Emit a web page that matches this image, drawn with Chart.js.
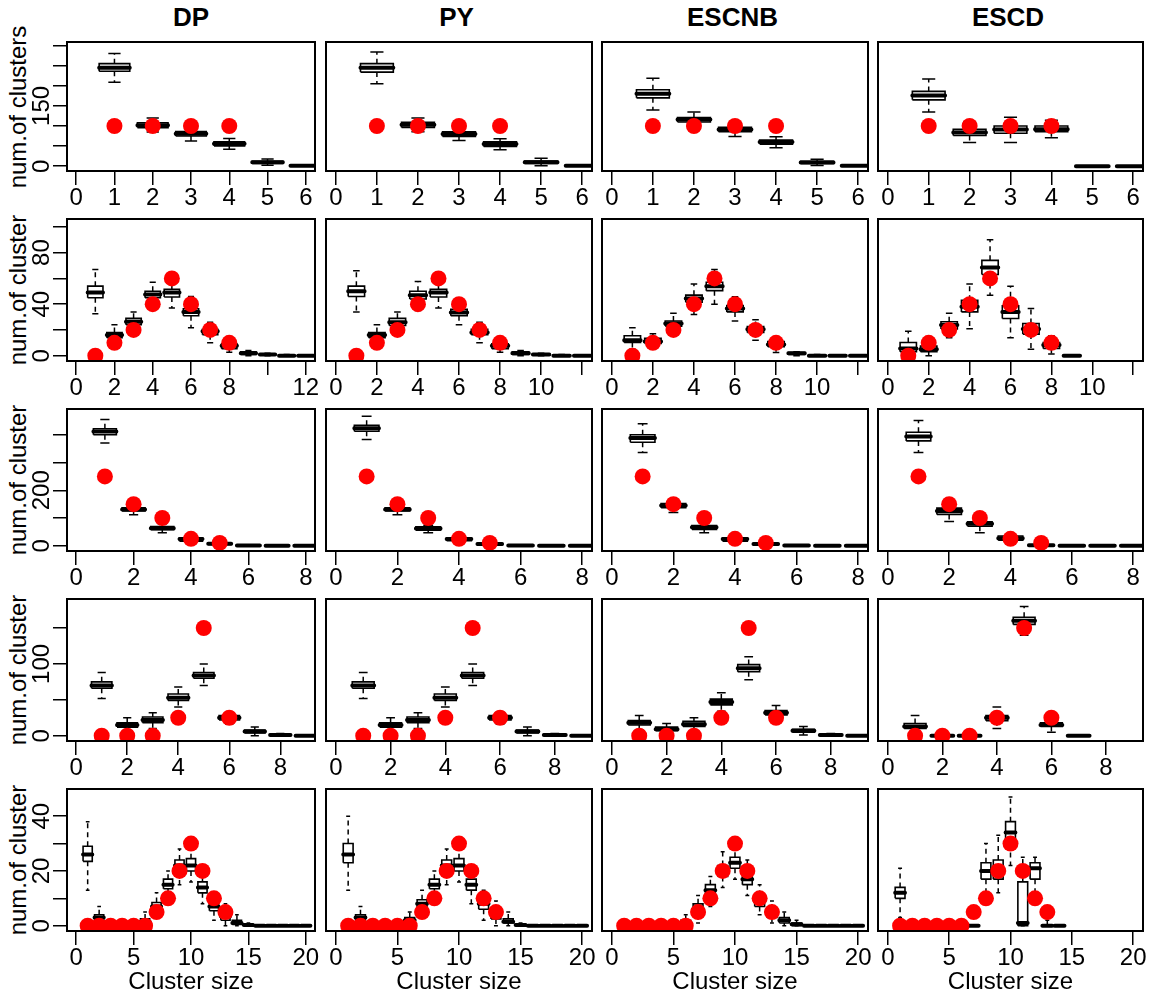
<!DOCTYPE html>
<html>
<head>
<meta charset="utf-8">
<script src="https://cdn.jsdelivr.net/npm/chart.js@4.4.0/dist/chart.umd.min.js"></script>
<style>
  body { margin: 0; background: #fff; width: 1151px; height: 1000px; position: relative; overflow: hidden;
         font-family: "Liberation Sans", Arial, Helvetica, sans-serif; color: #000; }
  canvas { position: absolute; }
  .head { position: absolute; top: 0; font-weight: bold; font-size: 26px; line-height: 34px; text-align: center; width: 200px; }
  .ytitle { position: absolute; font-size: 24px; line-height: 24px; white-space: nowrap; transform: translate(-50%, -50%) rotate(-90deg); }
</style>
</head>
<body>
<script>
// ---- data ----
const methods = ['DP', 'PY', 'ESCNB', 'ESCD'];
const yTitles = ['num.of clusters', 'num.of cluster', 'num.of cluster', 'num.of cluster', 'num.of cluster'];
const groupCounts = [6, 12, 8, 9, 20];
const yDataMax = [297, 102, 474, 183, 48];

const yTicks = [[0, 50, 100, 150, 200, 250, 300], [0, 20, 40, 60, 80, 100], [0, 100, 200, 300, 400], [0, 50, 100, 150], [0, 10, 20, 30, 40]];
const yTickLabels = [[0, 150], [0, 40, 80], [0, 200], [0, 100], [0, 20, 40]];
const xTicks = [[0, 1, 2, 3, 4, 5, 6], [0, 2, 4, 6, 8, 10, 12], [0, 2, 4, 6, 8], [0, 2, 4, 6, 8], [0, 5, 10, 15, 20]];
const xTickLabels = [[0, 1, 2, 3, 4, 5, 6], [0, 2, 4, 6, 8, 10], [0, 2, 4, 6, 8], [0, 2, 4, 6, 8], [0, 5, 10, 15, 20]];
const xTickLabelsRow2First = [0, 2, 4, 6, 8, 12];

// observed counts (red dots), at cluster size 1, 2, ...
const obsRow1 = [100, 100, 100, 100];
const obsRow2 = [0, 10, 20, 40, 60, 40, 20, 10];
const obsRow3 = [250, 150, 100, 25, 10];
const obsRow4 = [0, 0, 0, 25, 150, 25];
const obsRow5 = [0, 0, 0, 0, 0, 0, 5, 10, 20, 30, 20, 10, 5];

// boxplots: [lower whisker, q1, median, q3, upper whisker] per cluster size
const dpRow1 = [[209, 236, 245, 255, 280], [85, 96, 102, 108, 120], [63, 75, 80.5, 86, 97], [42, 50.7, 55.6, 60.6, 69], [2.5, 7, 10, 12, 18], [0, 0.5, 1, 1.5, 3]];
const pyRow1 = [[205, 234, 245, 255, 284], [85.6, 96.5, 103, 109, 120], [64, 74, 80, 85.6, 95], [40.7, 49, 55, 60.6, 68], [1, 7, 10, 13, 20], [0, 0.5, 1, 1.5, 3]];
const escnbRow1 = [[140, 170, 180, 190, 219], [95.6, 110, 116, 121, 135], [74, 85.6, 91.5, 96.5, 109], [45.7, 55, 60, 65, 73], [2, 7, 9, 12, 17.5], [0, 0.5, 1, 1.5, 2]];
const escdRow1 = [[135, 165, 176, 186, 217], [59, 76.5, 84, 91.5, 110], [59, 82, 91.5, 100, 122], [70.6, 85.6, 92, 100, 114], [0, 0, 0, 0, 0], [0, 0, 0, 0, 0]];

const dpRow2 = [[32.6, 45, 49, 54, 67], [11, 14, 16, 18, 24], [18, 24, 26.4, 29, 34], [39, 45, 47.6, 50, 57], [37, 45.6, 49, 51.6, 58], [21.7, 31, 34, 36.5, 46],
  [10, 16.3, 19, 20.6, 26], [2.8, 5.4, 7.8, 9.3, 12], [0, 1, 2, 3, 4], [0, 0.5, 1, 1.5, 2], [0, 0, 0, 0.5, 1], [0, 0, 0, 0, 0.5]];
const pyRow2 = [[34, 46, 50, 54, 66], [10, 14, 16, 18, 24], [18, 23.5, 26, 29, 34], [35, 44, 47, 50, 57.6], [37, 45.6, 49, 51.6, 58], [24, 31, 33.6, 36, 43],
  [10, 16.3, 18, 20.6, 26], [2.8, 5.4, 7.8, 9.3, 12], [0, 1, 2, 3, 4], [0, 0.5, 1, 1.5, 2], [0, 0, 0, 0.5, 1], [0, 0, 0, 0, 0.5]];
const escnbRow2 = [[5, 10.3, 12, 15.5, 21.7], [7, 9.6, 11, 13.5, 17], [17, 23, 25, 27, 33], [32, 41.5, 44.5, 47, 55.6], [40, 50.5, 54, 57, 67], [27, 34, 36.7, 39, 45.7],
  [12, 18, 20.5, 22.6, 28], [2.6, 7, 8.8, 11, 13], [0, 1, 2, 2.5, 3], [0, 0, 0, 0.5, 1], [0, 0, 0, 0, 0.5], [0, 0, 0, 0, 0]];
const escdRow2 = [[0, 3.1, 5.7, 10.3, 19], [0, 3.1, 5, 7.5, 10], [14, 20.7, 23.8, 26.4, 33], [21, 34, 38, 43, 55.6], [47, 63, 68.5, 74, 90], [14, 28.9, 34, 38.7, 54],
  [5, 16.8, 20.7, 25, 36.7], [1.3, 5.7, 8.3, 10.3, 15.5], [0, 0, 0, 0, 0]];

const dpRow3 = [[370, 400, 412, 421.6, 455], [112, 125, 131, 137, 145], [47, 57.6, 63.5, 69.5, 79], [10, 16.5, 24, 28.5, 35], [2, 5, 7, 9, 12], [0, 0.5, 1, 2, 3], [0, 0, 0, 0.5, 1], [0, 0, 0, 0, 0]];
const pyRow3 = [[383, 413, 424, 434.6, 467], [112, 125, 131, 137, 145], [47, 56, 62, 68, 74], [10, 18, 24, 28, 35], [2, 4, 6, 8, 12], [0, 0.5, 1, 2, 3], [0, 0, 0, 0.5, 1], [0, 0, 0, 0, 0]];
const escnbRow3 = [[336, 373, 388, 400, 439.6], [120, 137, 145, 152, 168], [47, 59, 67, 73, 83], [12, 16, 24, 28, 35], [2, 4, 6, 8, 12], [0, 0.5, 1, 2, 3], [0, 0, 0, 0, 0], [0, 0, 0, 0, 0]];
const escdRow3 = [[336, 378, 394, 409, 451.5], [87.6, 113, 125, 135.6, 163], [47, 70, 79, 86, 100], [12, 20, 27, 35, 43], [0, 0.5, 2, 3, 5], [0, 0, 0, 0, 0], [0, 0, 0, 0, 0], [0, 0, 0, 0, 0]];

const dpRow4 = [[52, 66, 70, 75, 88], [5, 12, 15, 18, 25], [10, 18, 22, 26, 32], [40, 49, 53, 58, 68], [70, 80, 84, 88, 100], [16, 22, 25, 28, 33], [0, 4, 6, 8, 12], [0, 0.5, 1, 2, 3], [0, 0, 0, 0, 0]];
const pyRow4 = [[52, 66, 70, 75, 88], [5, 12, 15, 18, 25], [10, 18, 22, 26, 32], [40, 49, 53, 58, 68], [70, 80, 84, 88, 100], [16, 22, 25, 28, 33], [0, 4, 6, 8, 12], [0, 0.5, 1, 2, 3], [0, 0, 0, 0, 0]];
const escnbRow4 = [[8, 15, 18, 21, 28], [2, 7, 9, 12, 17], [7, 13, 16, 20, 25], [34, 43, 47, 51, 60], [78, 89, 94, 99, 110], [22, 29, 32, 35, 42], [1, 5, 7, 9, 13], [0, 0.5, 1, 2, 3], [0, 0, 0, 0, 0]];
const escdRow4 = [[2, 10, 13, 17, 28], [0, 0, 0, 0.5, 2], [0, 0, 0, 0, 1], [10, 21, 25, 28, 40], [140, 155, 160, 165, 180], [5, 13, 15, 18, 25], [0, 0, 0, 0, 0]];

const dpRow5 = [[13, 23.5, 26, 29, 38], [0, 2, 3, 4, 7], [0, 0, 0, 0.5, 1], [0, 0, 0, 0, 0], [0, 0, 0, 0, 0.5], [0, 0.5, 1.5, 2.5, 5], [3, 5.5, 7, 8.5, 12],
  [10, 13.5, 15, 17, 20], [15, 20, 22, 24, 28], [16, 20, 22, 24.5, 30], [8, 12, 14, 16, 20], [2, 5.5, 7, 8.5, 12], [0, 2, 3.5, 5, 8], [0, 0.5, 1, 2, 4],
  [0, 0, 0.3, 0.5, 1], [0, 0, 0, 0, 0], [0, 0, 0, 0, 0], [0, 0, 0, 0, 0], [0, 0, 0, 0, 0], [0, 0, 0, 0, 0]];
const pyRow5 = [[13, 23, 26, 30, 40], [0, 2, 3, 4, 7], [0, 0, 0, 0.5, 1], [0, 0, 0, 0, 0], [0, 0, 0, 0, 0.5], [0, 1, 2, 3, 5], [3, 6, 8, 9.5, 13],
  [10, 13.5, 15, 17, 20], [15, 20, 22, 24, 28], [16, 20, 22, 24.5, 30], [8, 13, 15, 17, 21], [2, 6, 8, 9.5, 13], [0, 2.5, 4, 5.5, 9], [0, 1, 1.5, 2.5, 5],
  [0, 0, 0.3, 0.5, 1], [0, 0, 0, 0, 0], [0, 0, 0, 0, 0], [0, 0, 0, 0, 0], [0, 0, 0, 0, 0], [0, 0, 0, 0, 0]];
const escnbRow5 = [[0, 0, 0, 0, 0], [0, 0, 0, 0, 0], [0, 0, 0, 0, 0], [0, 0, 0, 0, 0], [0, 0, 0, 0, 0], [0, 0, 1, 2, 4], [1, 4, 6, 8, 11],
  [7, 11, 13, 15, 18], [14, 18, 20, 22, 27], [17, 21, 23, 25, 30], [11, 15, 17, 19, 24], [4, 7, 9, 11, 15], [1, 3, 5, 6, 9], [0, 1, 2, 3, 5],
  [0, 0, 0.5, 1, 2], [0, 0, 0, 0, 0], [0, 0, 0, 0, 0], [0, 0, 0, 0, 0], [0, 0, 0, 0, 0], [0, 0, 0, 0, 0]];
const escdRow5 = [[3, 10, 12, 14, 21], [0, 0, 0, 0, 0], [0, 0, 0, 0, 0], [0, 0, 0, 0, 0], [0, 0, 0, 0, 0], [0, 0, 0, 0, 0], [0, 0, 0, 0, 0],
  [11, 17, 20, 23, 30], [12, 17, 21, 24, 33], [22, 30, 34, 38, 47], [0, 0, 1, 16, 25], [10, 17, 21, 23, 25], [0, 0, 0, 0, 2], [0, 0, 0, 0, 0]];

const boxTable = [
  [dpRow1, pyRow1, escnbRow1, escdRow1],
  [dpRow2, pyRow2, escnbRow2, escdRow2],
  [dpRow3, pyRow3, escnbRow3, escdRow3],
  [dpRow4, pyRow4, escnbRow4, escdRow4],
  [dpRow5, pyRow5, escnbRow5, escdRow5]
];
const obsTable = [obsRow1, obsRow2, obsRow3, obsRow4, obsRow5];

// ---- layout (pixel positions of each plot frame) ----
const colLeft = [67, 321, 597, 873];
const colRight = [315, 592, 868, 1143];
const rowTop = [42, 219, 409, 599, 789];
const rowBottom = [171, 361, 551, 741, 931];

const FONT = '"Liberation Sans", Arial, Helvetica, sans-serif';
Chart.defaults.font.family = FONT;
Chart.defaults.color = '#000';

const frame = {
  id: 'frame',
  afterDraw(chart) {
    const { ctx, chartArea: a } = chart;
    ctx.save();
    ctx.strokeStyle = '#000';
    ctx.lineWidth = 2;
    ctx.strokeRect(a.left, a.top, a.right - a.left, a.bottom - a.top);
    ctx.restore();
  }
};

function boxDatasets(stats) {
  const half = 0.4, cap = 0.16;
  const box = [], mid = [], dash = [], ends = [];
  stats.forEach((s, i) => {
    const x = i + 1;
    const [lo, q1, md, q3, hi] = s;
    box.push({ x: x - half, y: q1 }, { x: x + half, y: q1 }, { x: x + half, y: q3 }, { x: x - half, y: q3 }, { x: x - half, y: q1 }, { x: x, y: null });
    mid.push({ x: x - half, y: md }, { x: x + half, y: md }, { x: x, y: null });
    dash.push({ x: x, y: q3 }, { x: x, y: hi }, { x: x, y: null }, { x: x, y: q1 }, { x: x, y: lo }, { x: x, y: null });
    ends.push({ x: x - cap, y: hi }, { x: x + cap, y: hi }, { x: x, y: null }, { x: x - cap, y: lo }, { x: x + cap, y: lo }, { x: x, y: null });
  });
  const line = { showLine: true, pointRadius: 0, pointHoverRadius: 0, borderColor: '#000', tension: 0, spanGaps: false };
  return [
    Object.assign({ data: dash, borderWidth: 1.5, borderDash: [5, 4], order: 4 }, line),
    Object.assign({ data: ends, borderWidth: 1.5, order: 3 }, line),
    Object.assign({ data: box, borderWidth: 1.6, borderJoinStyle: 'miter', order: 2 }, line),
    Object.assign({ data: mid, borderWidth: 4, borderCapStyle: 'round', order: 1 }, line)
  ];
}

const meas = document.createElement('canvas').getContext('2d');
meas.font = '24px ' + FONT;

function makePanel(r, c) {
  const n = groupCounts[r];
  const M = yDataMax[r];
  const left = colLeft[c], right = colRight[c], top = rowTop[r], bottom = rowBottom[r];
  const padL = c === 0 ? 0 : 3;
  const xAxisH = r === 4 ? 66 : 45;
  const cLeft = c === 0 ? 0 : left - padL;
  const cTop = top - 14;
  const canvas = document.createElement('canvas');
  canvas.width = right + 8 - cLeft;
  canvas.height = bottom + xAxisH - cTop;
  canvas.style.left = cLeft + 'px';
  canvas.style.top = cTop + 'px';
  document.body.appendChild(canvas);

  const shownX = (r === 1 && c === 0) ? xTickLabelsRow2First : xTickLabels[r];
  const widest = Math.max(...yTickLabels[r].map(v => meas.measureText(String(v)).width));
  const obs = obsTable[r];

  const datasets = boxDatasets(boxTable[r][c]);
  datasets.push({
    data: obs.map((v, i) => ({ x: i + 1, y: v })),
    showLine: false, pointRadius: 8, pointHoverRadius: 8,
    backgroundColor: '#ff0000', borderWidth: 0, order: 0
  });

  const yScale = {
    type: 'linear',
    display: c === 0,
    min: -0.04 * M,
    max: 1.04 * M,
    afterBuildTicks: s => { s.ticks = yTicks[r].map(v => ({ value: v })); },
    border: { display: false },
    grid: { drawOnChartArea: false, drawTicks: true, tickLength: 14, color: '#000', lineWidth: 1.5 },
    ticks: {
      autoSkip: false, minRotation: 90, maxRotation: 90, crossAlign: 'center',
      padding: 11 - widest / 2,
      color: '#000', font: { size: 24 },
      callback: v => yTickLabels[r].includes(v) ? String(v) : ''
    }
  };
  if (c === 0) yScale.afterFit = s => { s.width = left; };

  new Chart(canvas, {
    type: 'scatter',
    data: { datasets },
    plugins: [frame],
    options: {
      responsive: false,
      devicePixelRatio: 1,
      animation: false,
      events: [],
      layout: { padding: { left: padL, right: 8, top: 14, bottom: 0 } },
      plugins: { legend: { display: false }, tooltip: { enabled: false } },
      scales: {
        x: {
          type: 'linear',
          min: -0.04 * n,
          max: 1.04 * n,
          afterBuildTicks: s => { s.ticks = xTicks[r].map(v => ({ value: v })); },
          afterFit: s => { s.height = xAxisH; },
          border: { display: false },
          grid: { drawOnChartArea: false, drawTicks: true, tickLength: 14, color: '#000', lineWidth: 1.5 },
          ticks: {
            autoSkip: false, maxRotation: 0, minRotation: 0, padding: -1,
            color: '#000', font: { size: 24 },
            callback: v => shownX.includes(v) ? String(v) : ''
          },
          title: {
            display: r === 4, text: 'Cluster size', color: '#000',
            font: { size: 24 }, padding: { top: 0, bottom: 0 }
          }
        },
        y: yScale
      }
    }
  });
}

methods.forEach((m, c) => {
  const d = document.createElement('div');
  d.className = 'head';
  d.textContent = m;
  d.style.left = ((colLeft[c] + colRight[c]) / 2 - 100) + 'px';
  document.body.appendChild(d);
});

yTitles.forEach((t, r) => {
  const d = document.createElement('div');
  d.className = 'ytitle';
  d.textContent = t;
  d.style.left = '18px';
  d.style.top = ((rowTop[r] + rowBottom[r]) / 2) + 'px';
  document.body.appendChild(d);
});

for (let r = 0; r < 5; r++) {
  for (let c = 0; c < 4; c++) makePanel(r, c);
}
</script>
</body>
</html>
